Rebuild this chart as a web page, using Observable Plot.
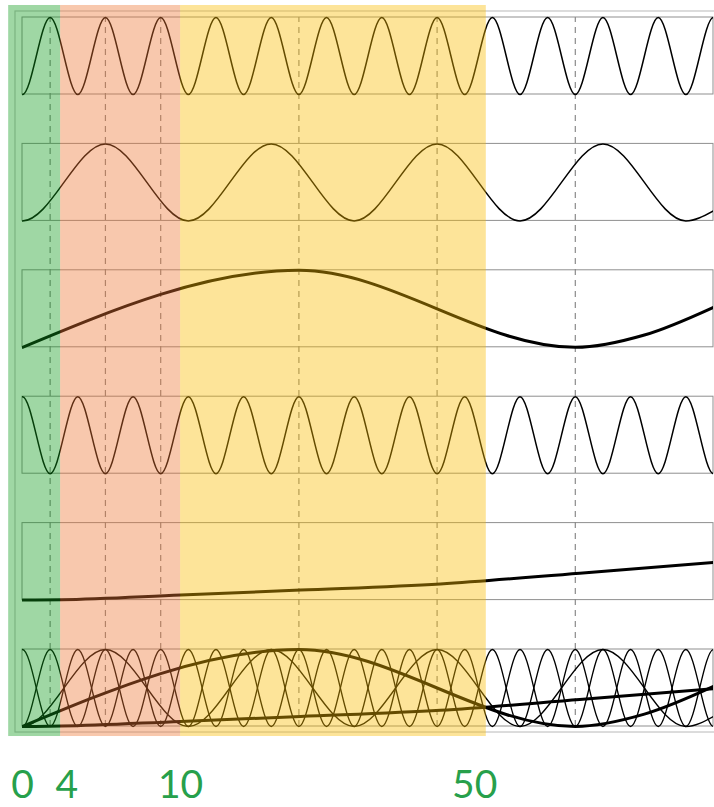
<!DOCTYPE html>
<html>
<head>
<meta charset="utf-8">
<script src="https://cdn.jsdelivr.net/npm/d3@7"></script>
<script src="https://cdn.jsdelivr.net/npm/@observablehq/plot@0.6"></script>
<style>
  html, body { margin: 0; padding: 0; background: #fff; }
  #chart svg { display: block; }
</style>
</head>
<body>
<div id="chart"></div>
<script>
// ---- data ----
// fast wave (period 1): extreme positions (one extra extreme on each side, clipped by the frame)
const fastX = [-0.5, 0, 0.5, 1, 1.5, 2, 2.5, 3, 3.5, 4, 4.5, 5, 5.5, 6, 6.5, 7, 7.5, 8, 8.5, 9, 9.5, 10, 10.5, 11, 11.5, 12, 12.5, 13];
const sinFastV = [1, 0, 1, 0, 1, 0, 1, 0, 1, 0, 1, 0, 1, 0, 1, 0, 1, 0, 1, 0, 1, 0, 1, 0, 1, 0, 1, 0];
const cosFastV = [0, 1, 0, 1, 0, 1, 0, 1, 0, 1, 0, 1, 0, 1, 0, 1, 0, 1, 0, 1, 0, 1, 0, 1, 0, 1, 0, 1];
// medium wave (period 3)
const midX = [-1.5, 0, 1.5, 3, 4.5, 6, 7.5, 9, 10.5, 12, 12.5];
const midV = [1, 0, 1, 0, 1, 0, 1, 0, 1, 0, 0.13];
// slow wave (period 10)
const slowX = [0, 5, 10, 11.25, 12.5];
const slowV = [0, 1, 0, 0.16, 0.52];
// slowest wave
const slowestX = [0, 0.7, 2.86, 5.03, 7.56, 10.08, 12.5];
const slowestV = [0, 0.005, 0.066, 0.13, 0.21, 0.35, 0.49];

const seriesNames = ["sin1", "sin3", "sin10", "cos1", "sin50"];
const seriesX = [fastX, midX, slowX, fastX, slowestX];
const seriesV = [sinFastV, midV, slowV, cosFastV, slowestV];
const seriesThick = [false, false, true, false, true];

// dashed guide positions
const guideX = [0.5, 1.5, 2.5, 5, 7.5, 10];

// shaded regions
const regionX1 = [-0.25, 0.69, 2.86];
const regionX2 = [0.69, 2.86, 8.39];
const regionColor = ["#0f9a1c", "#ee7633", "#fabb00"];

// bottom labels
const labelText = ["0", "4", "10", "50"];
const labelX = [0, 0.8, 2.86, 8.18];

// ---- layout helpers ----
const pitch = 1.6416;   // distance between panels, in panel heights
const nPanels = 6;

const rows = seriesNames.flatMap((name, s) =>
  seriesX[s].map((x, i) => ({ series: name, panel: s, x, v: seriesV[s][i], thick: seriesThick[s] }))
);
const panels = d3.range(nPanels).map(k => ({ k, y1: -k * pitch, y2: -k * pitch + 1 }));
const regions = regionX1.map((x1, i) => ({ x1, x2: regionX2[i], color: regionColor[i] }));
const labels = labelText.map((t, i) => ({ t, x: labelX[i] }));

const bottom = -(nPanels - 1) * pitch;

const lineFor = (thick, overlay) => Plot.line(rows.filter(d => d.thick === thick), {
  x: "x",
  y: d => d.v - (overlay ? (nPanels - 1) : d.panel) * pitch,
  z: "series",
  curve: "monotone-x",
  clip: true,
  stroke: "black",
  strokeWidth: thick ? 3 : (overlay ? 1.3 : 1.5)
});

const chart = Plot.plot({
  width: 714,
  height: 807,
  marginLeft: 22,
  marginRight: 1,
  marginTop: 14,
  marginBottom: 78,
  x: { domain: [0, 12.5], range: [22, 713], axis: null },
  y: { domain: [bottom, 1], range: [726, 17], axis: null },
  marks: [
    // outer frame
    Plot.rect([{ x1: -0.127, x2: 12.7, y1: bottom - 0.078, y2: 1.078 }], {
      x1: "x1", x2: "x2", y1: "y1", y2: "y2", fill: "none", stroke: "#c4c4c4", strokeWidth: 1.2
    }),
    // panel frames
    Plot.rect(panels, { x1: 0, x2: 12.5, y1: "y1", y2: "y2", fill: "none", stroke: "#8f8f8f", strokeWidth: 1 }),
    // dashed guides
    Plot.ruleX(guideX, { y1: bottom, y2: 1, stroke: "#8a8a8a", strokeWidth: 1.2, strokeDasharray: "6,5" }),
    // curves
    lineFor(false, false),
    lineFor(true, false),
    lineFor(false, true),
    lineFor(true, true),
    // shaded regions on top
    Plot.rect(regions, {
      x1: "x1", x2: "x2", y1: bottom - 0.13, y2: 1.156, fill: "color", fillOpacity: 0.4
    }),
    // labels
    Plot.text(labels, {
      x: "x", y: bottom - 0.766, text: "t", lineAnchor: "middle",
      fill: "#27a04b", fontSize: 39, fontFamily: "Lato, 'Open Sans', sans-serif"
    })
  ]
});

document.getElementById("chart").appendChild(chart);
</script>
</body>
</html>
